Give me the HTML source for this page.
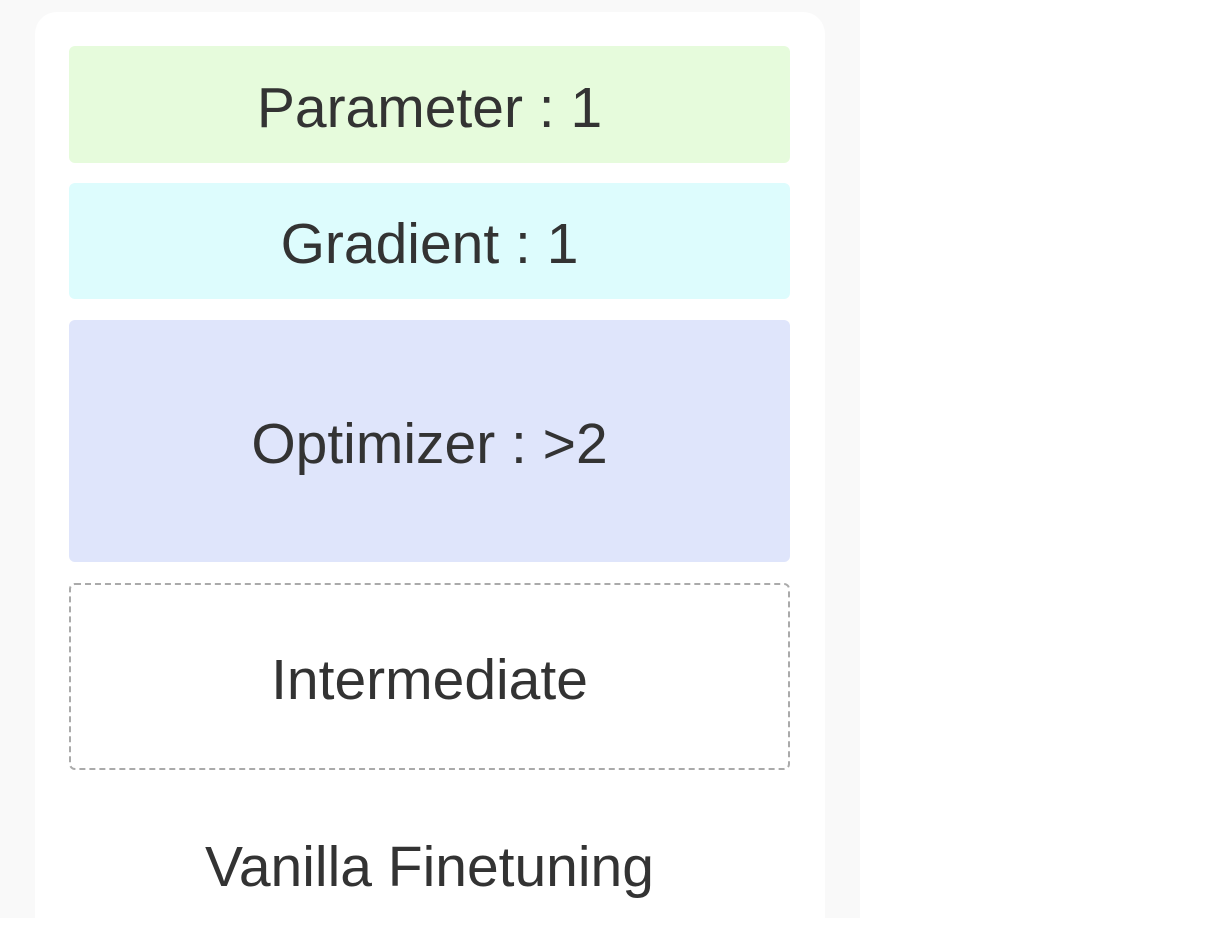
<!DOCTYPE html>
<html><head><style>
html,body{margin:0;padding:0}
body{width:1228px;height:918px;position:relative;overflow:hidden;background:#fff;font-family:"Liberation Sans",sans-serif;color:#333}
.bg{position:absolute;left:0;top:0;width:860px;height:918px;background:#f9f9f9}
.card{position:absolute;left:35px;top:12px;width:790px;height:930px;background:#fff;border-radius:22px}
.b{position:absolute;left:69px;width:721px;display:flex;align-items:center;justify-content:center;font-size:57px;border-radius:6px;padding-top:6px;box-sizing:border-box}
</style></head><body>
<div class="bg"></div>
<div class="card"></div>
<div class="b" style="top:46px;height:117px;background:#e6fbdc">Parameter : 1</div>
<div class="b" style="top:183px;height:116px;background:#ddfcfd">Gradient : 1</div>
<div class="b" style="top:320px;height:242px;background:#dfe5fb">Optimizer : &gt;2</div>
<div class="b" style="top:583px;height:187px;border:2px dashed #aaa;background:#fff">Intermediate</div>
<div style="position:absolute;left:69px;width:721px;top:834px;text-align:center;font-size:57px">Vanilla Finetuning</div>
</body></html>
